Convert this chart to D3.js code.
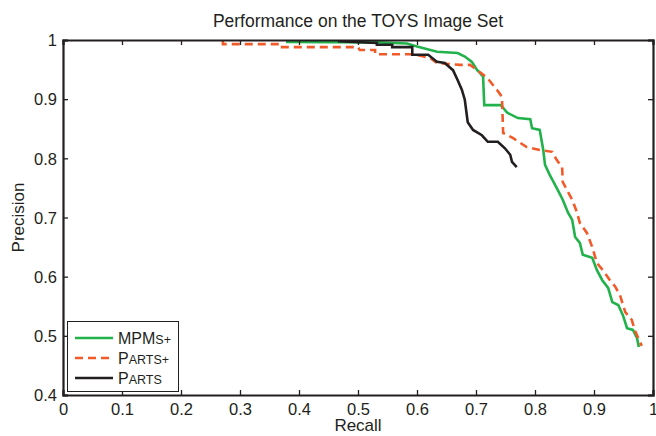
<!DOCTYPE html>
<html><head><meta charset="utf-8">
<script src="https://cdn.jsdelivr.net/npm/d3@7"></script>
<style>body{margin:0;background:#fff}svg{display:block}text{font-family:"Liberation Sans",Arial,sans-serif;fill:#231f20}</style>
</head><body>
<script>
const xTicks=[0,0.1,0.2,0.3,0.4,0.5,0.6,0.7,0.8,0.9,1];
const yTicks=[0.4,0.5,0.6,0.7,0.8,0.9,1];
const mpmsRecall=[0.378,0.534,0.583,0.600,0.634,0.669,0.681,0.693,0.702,0.707,0.712,0.714,0.742,0.753,0.771,0.792,0.795,0.808,0.814,0.817,0.825,0.834,0.842,0.847,0.856,0.863,0.868,0.876,0.881,0.897,0.905,0.914,0.924,0.931,0.941,0.949,0.956,0.966,0.973,0.976];
const mpmsPrec=[0.9966,0.996,0.994,0.989,0.980,0.978,0.972,0.963,0.949,0.944,0.938,0.890,0.890,0.877,0.868,0.866,0.851,0.848,0.814,0.789,0.772,0.755,0.740,0.730,0.708,0.696,0.667,0.657,0.637,0.632,0.611,0.594,0.581,0.557,0.552,0.535,0.513,0.510,0.496,0.481];
const partsPlusRecall=[0.271,0.271,0.368,0.368,0.500,0.503,0.529,0.529,0.592,0.597,0.622,0.634,0.673,0.690,0.702,0.719,0.736,0.744,0.746,0.763,0.786,0.808,0.829,0.837,0.846,0.847,0.856,0.863,0.871,0.876,0.888,0.897,0.905,0.915,0.927,0.936,0.944,0.953,0.964,0.969,0.975,0.981];
const partsPlusPrec=[1.0,0.993,0.993,0.988,0.988,0.983,0.983,0.976,0.976,0.975,0.970,0.961,0.958,0.958,0.949,0.936,0.915,0.904,0.843,0.834,0.819,0.814,0.811,0.797,0.785,0.760,0.743,0.730,0.709,0.691,0.674,0.650,0.623,0.611,0.594,0.583,0.569,0.540,0.527,0.510,0.496,0.483];
const partsRecall=[0.466,0.532,0.532,0.558,0.558,0.592,0.592,0.619,0.634,0.647,0.661,0.669,0.676,0.681,0.686,0.695,0.710,0.720,0.737,0.749,0.758,0.761,0.769];
const partsPrec=[0.998,0.995,0.992,0.992,0.988,0.988,0.975,0.975,0.963,0.961,0.949,0.932,0.916,0.899,0.861,0.848,0.839,0.828,0.828,0.817,0.806,0.794,0.785];
const seriesNames=[["MPM","s+"],["P","arts+"],["P","arts"]];
const colors=["#22b24c","#f15a29","#231f20"];

const W=656,H=436,L=63,R=653,T=40,B=395;
const svg=d3.select("body").append("svg").attr("width",W).attr("height",H);
const x=d3.scaleLinear().domain([0,1]).range([L,R]);
const y=d3.scaleLinear().domain([0.4,1]).range([B,T]);

svg.append("text").attr("x",(L+R)/2).attr("y",27).attr("text-anchor","middle").style("font-size","17.5px").text("Performance on the TOYS Image Set");

const series=[
 {r:mpmsRecall,p:mpmsPrec,c:colors[0],dash:null},
 {r:partsPlusRecall,p:partsPlusPrec,c:colors[1],dash:"8,5"},
 {r:partsRecall,p:partsPrec,c:colors[2],dash:null}
];
const line=d3.line().x(d=>x(d[0])).y(d=>y(d[1]));
const plot=svg.append("g");
[0,1,2].forEach(i=>{
  const s=series[i];
  plot.append("path").datum(s.r.map((v,j)=>[v,s.p[j]]))
   .attr("d",line).attr("fill","none").attr("stroke",s.c).attr("stroke-width",2.6)
   .attr("stroke-linejoin","miter").attr("stroke-dasharray",s.dash);
});

const fmt=d=>d3.format("")(+d.toFixed(1));
const ax=svg.append("g").attr("transform",`translate(0,${B})`).call(d3.axisBottom(x).tickValues(xTicks).tickSize(-5).tickPadding(8).tickFormat(fmt));
const axT=svg.append("g").attr("transform",`translate(0,${T})`).call(d3.axisTop(x).tickValues(xTicks).tickSize(-5).tickFormat(""));
const ay=svg.append("g").attr("transform",`translate(${L},0)`).call(d3.axisLeft(y).tickValues(yTicks).tickSize(-5).tickPadding(6).tickFormat(fmt));
const ayR=svg.append("g").attr("transform",`translate(${R},0)`).call(d3.axisRight(y).tickValues(yTicks).tickSize(-5).tickFormat(""));
[ax,axT,ay,ayR].forEach(g=>{
  g.attr("font-size",null).attr("font-family",null);
  g.select(".domain").attr("stroke","#231f20").attr("stroke-width",2.2);
  g.selectAll(".tick line").attr("stroke","#231f20").attr("stroke-width",1.3);
  g.selectAll("text").style("font-size","16.5px").attr("fill","#231f20");
});
ax.selectAll(".tick text").attr("dy","0.71em");
ay.selectAll(".tick text").attr("dy","0.35em");

svg.append("text").attr("x",(L+R)/2).attr("y",431).attr("text-anchor","middle").style("font-size","17px").text("Recall");
svg.append("text").attr("transform",`translate(24,${(T+B)/2}) rotate(-90)`).attr("text-anchor","middle").style("font-size","17px").text("Precision");

const lg=svg.append("g");
lg.append("rect").attr("x",67.5).attr("y",321.5).attr("width",111).attr("height",70).attr("fill","#fff").attr("stroke","#231f20").attr("stroke-width",1);
seriesNames.forEach((nm,i)=>{
  const yy=338+i*20;
  lg.append("line").attr("x1",75).attr("x2",113).attr("y1",yy).attr("y2",yy).attr("stroke",colors[i]).attr("stroke-width",2.6).attr("stroke-dasharray",series[i].dash);
  const t=lg.append("text").attr("x",118).attr("y",yy+6).style("font-size","16px");
  t.append("tspan").text(nm[0]);
  t.append("tspan").style("font-size","12.5px").text(nm[1].toUpperCase());
});
</script>
</body></html>
